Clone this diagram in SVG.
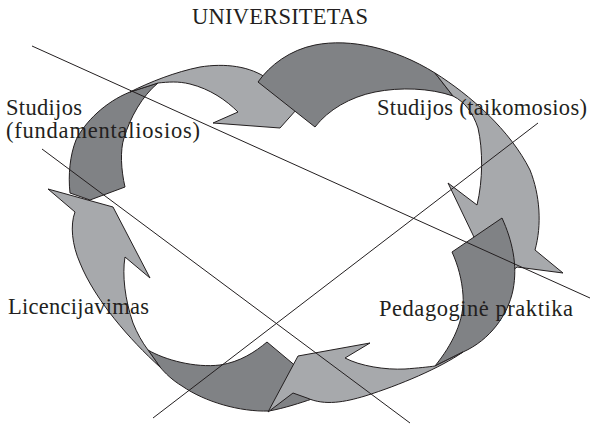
<svg xmlns="http://www.w3.org/2000/svg" width="590" height="431" viewBox="0 0 590 431">
<style>
.dk{fill:#808285;stroke:#231f20;stroke-width:1;stroke-linejoin:miter}
.lt{fill:#a7a9ac;stroke:#231f20;stroke-width:1;stroke-linejoin:miter}
.ln{stroke:#231f20;stroke-width:1;fill:none}
.tx{font-family:"Liberation Serif","Times New Roman",serif;font-size:22.5px;fill:#231f20}
</style>
<rect width="590" height="431" fill="#ffffff"/>
<g id="arrow-licencijavimas">
<path class="dk" d="M267,342 L310,378 L312,399 C300,403 285,408 269,411 C240,412 205,402 182,386 C172,380 165,373 160,367 L148,350 C165,360 195,368 220,365 C240,362 255,352 267,342 Z"/>
<path class="lt" d="M160,367 C130,340 95,300 80,263 C72,245 70,225 75,212 L48,189 L113,207 L150,278 L125,257 C122,275 125,300 133,323 C137,333 142,342 148,350 Z"/>
</g>
<g id="arrow-fundamentaliosios">
<path class="dk" d="M70,193 L90,200 L125,187 C121,170 120,150 124,138 C130,118 142,96 158,83 L130,92 C105,102 85,122 76,140 C70,155 68,175 70,193 Z"/>
<path class="lt" d="M130,92 C150,82 175,72 200,67 C225,63 250,66 268,79 L305,100 L280,128 L213,123 L238,112 C226,100 210,89 190,84 C178,81 168,82 158,83 Z"/>
</g>
<g id="arrow-universitetas">
<path class="dk" d="M258,82 C270,65 290,50 315,45 C350,38 395,48 435,73 L453,96 C430,88 400,87 375,92 C350,97 328,110 315,127 Z"/>
<path class="lt" d="M435,73 C470,95 510,130 530,170 C540,195 542,225 535,250 L563,273 L517,267 L495,285 L473,235 L448,183 L477,205 C483,180 483,150 478,128 C473,113 465,102 453,96 Z"/>
</g>
<g id="arrow-taikomosios">
<path class="dk" d="M452,252 L502,218 C512,240 518,265 513,290 C508,315 490,340 463,352 L435,366 C452,345 465,320 463,295 C462,280 458,265 452,252 Z"/>
<path class="lt" d="M463,352 C440,368 400,385 365,396 C345,402 325,406 307,398 L293,393 L268,412 L298,356 L370,343 L345,358 C360,366 385,370 405,369 C418,368 428,367 435,366 Z"/>
</g>
<g id="connectors">
<line class="ln" x1="32" y1="46" x2="590" y2="298"/>
<line class="ln" x1="42" y1="149" x2="410" y2="423"/>
<line class="ln" x1="153" y1="418" x2="538" y2="123"/>
</g>
<g id="labels">
<text class="tx" x="192" y="24" textLength="176">UNIVERSITETAS</text>
<text class="tx" x="6" y="115" textLength="76">Studijos</text>
<text class="tx" x="6" y="138" textLength="194">(fundamentaliosios)</text>
<text class="tx" x="377" y="115" textLength="210">Studijos (taikomosios)</text>
<text class="tx" x="8" y="314" textLength="141">Licencijavimas</text>
<text class="tx" x="379" y="316" textLength="194">Pedagoginė praktika</text>
</g>
</svg>
